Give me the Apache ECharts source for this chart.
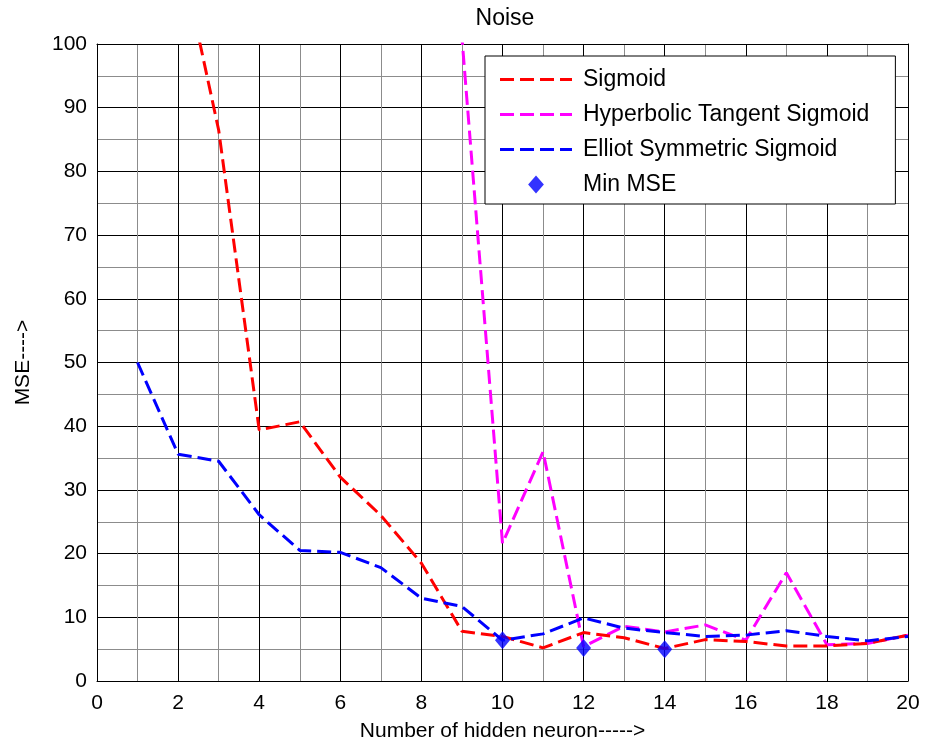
<!DOCTYPE html>
<html>
<head>
<meta charset="utf-8">
<script src="https://cdn.jsdelivr.net/npm/echarts@6/dist/echarts.min.js"></script>
<style>
  html, body { margin: 0; padding: 0; background: #fff; }
  #chart { width: 925px; height: 749px; }
</style>
</head>
<body>
<div id="chart"></div>
<script>
// hidden neurons 1..20
const neurons = [1, 2, 3, 4, 5, 6, 7, 8, 9, 10, 11, 12, 13, 14, 15, 16, 17, 18, 19, 20];
const sigmoid = [140, 116, 86.5, 39.4, 40.7, 32, 26, 18.5, 7.8, 7.0, 5.2, 7.6, 6.8, 5.1, 6.5, 6.2, 5.5, 5.5, 5.9, 7.2];
const tansig = [500, 500, 500, 500, 500, 500, 500, 400, 101, 21.6, 36.0, 5.4, 8.6, 7.7, 8.8, 6.4, 17.0, 5.7, 5.9, 7.2];
const elliot = [50, 35.6, 34.5, 26.1, 20.5, 20.2, 17.8, 13.0, 11.7, 6.4, 7.4, 9.9, 8.3, 7.6, 7.0, 7.2, 7.9, 7.0, 6.3, 7.0];
const minMse = [[10, 6.4], [12, 5.2], [14, 5.0]];

const font = 'Liberation Sans, Arial, sans-serif';
const pair = (xs, ys) => xs.map((x, i) => [x, ys[i]]);

// legend glyphs: a dashed stroke and the min-mse diamond
const dashIcon = 'path://M0,0h14v3h-14z M20,0h14v3h-14z M40,0h14v3h-14z M60,0h12v3h-12z';
const diamond = 'path://M0,-8L7,0L0,8L-7,0Z';

const chart = echarts.init(document.getElementById('chart'));

const baseX = {
  type: 'value', min: 0, max: 20, interval: 2,
  axisLine: { show: true, onZero: false, lineStyle: { color: '#000', width: 1 } },
  axisTick: { show: true, inside: true, length: 5, lineStyle: { color: '#000' } },
  minorTick: { show: false, splitNumber: 2 }
};
const baseY = {
  type: 'value', min: 0, max: 100, interval: 10,
  axisLine: { show: true, onZero: false, lineStyle: { color: '#000', width: 1 } },
  axisTick: { show: true, inside: true, length: 5, lineStyle: { color: '#000' } },
  minorTick: { show: false, splitNumber: 2 }
};

const dashed = color => ({ color: color, width: 3, type: [14, 6] });

chart.setOption({
  animation: false,
  backgroundColor: '#fff',
  title: {
    text: 'Noise', left: 500, top: 2, textAlign: 'center',
    textStyle: { fontFamily: font, fontSize: 23, fontWeight: 'normal', color: '#000' }
  },
  grid: { left: 97, right: 17, top: 44, bottom: 68 },
  legend: {
    orient: 'vertical', left: 485, top: 56,
    padding: [12, 26, 8, 15],
    itemWidth: 72, itemHeight: 18, itemGap: 12,
    backgroundColor: '#fff', borderColor: '#000', borderWidth: 1, borderRadius: 0,
    textStyle: { fontFamily: font, fontSize: 23, color: '#000', padding: [0, 0, 0, 6] },
    data: [
      { name: 'Sigmoid', icon: dashIcon, itemStyle: { color: '#ff0000' } },
      { name: 'Hyperbolic Tangent Sigmoid', icon: dashIcon, itemStyle: { color: '#ff00ff' } },
      { name: 'Elliot Symmetric Sigmoid', icon: dashIcon, itemStyle: { color: '#0000ff' } },
      { name: 'Min MSE', icon: diamond, itemStyle: { color: '#0000ff' } }
    ]
  },
  xAxis: [
    Object.assign({}, baseX, {
      position: 'bottom',
      name: 'Number of hidden neuron----->', nameLocation: 'middle', nameGap: 40,
      nameTextStyle: { fontFamily: font, fontSize: 21, color: '#000' },
      axisLabel: { fontFamily: font, fontSize: 21, color: '#000', margin: 12 },
      splitLine: { show: true, lineStyle: { color: '#000', width: 1 } },
      minorSplitLine: { show: true, lineStyle: { color: '#8c8c8c', width: 1 } }
    }),
    Object.assign({}, baseX, {
      position: 'top', axisLabel: { show: false },
      splitLine: { show: false }
    })
  ],
  yAxis: [
    Object.assign({}, baseY, {
      position: 'left',
      name: 'MSE---->', nameLocation: 'middle', nameGap: 63,
      nameTextStyle: { fontFamily: font, fontSize: 21, color: '#000' },
      axisLabel: { fontFamily: font, fontSize: 21, color: '#000', margin: 10 },
      splitLine: { show: true, lineStyle: { color: '#000', width: 1 } },
      minorSplitLine: { show: true, lineStyle: { color: '#8c8c8c', width: 1 } }
    }),
    Object.assign({}, baseY, {
      position: 'right', axisLabel: { show: false },
      splitLine: { show: false }
    })
  ],
  series: [
    {
      name: 'Sigmoid', type: 'line', symbol: 'none', clip: true,
      data: pair(neurons, sigmoid), lineStyle: dashed('#ff0000'),
      itemStyle: { color: '#ff0000' }, z: 3
    },
    {
      name: 'Hyperbolic Tangent Sigmoid', type: 'line', symbol: 'none', clip: true,
      data: pair(neurons, tansig), lineStyle: dashed('#ff00ff'),
      itemStyle: { color: '#ff00ff' }, z: 2
    },
    {
      name: 'Elliot Symmetric Sigmoid', type: 'line', symbol: 'none', clip: true,
      data: pair(neurons, elliot), lineStyle: dashed('#0000ff'),
      itemStyle: { color: '#0000ff' }, z: 4
    },
    {
      name: 'Min MSE', type: 'scatter', symbol: diamond, symbolSize: [15, 18],
      data: minMse, itemStyle: { color: '#0000ff' }, z: 5
    }
  ]
});
</script>
</body>
</html>
